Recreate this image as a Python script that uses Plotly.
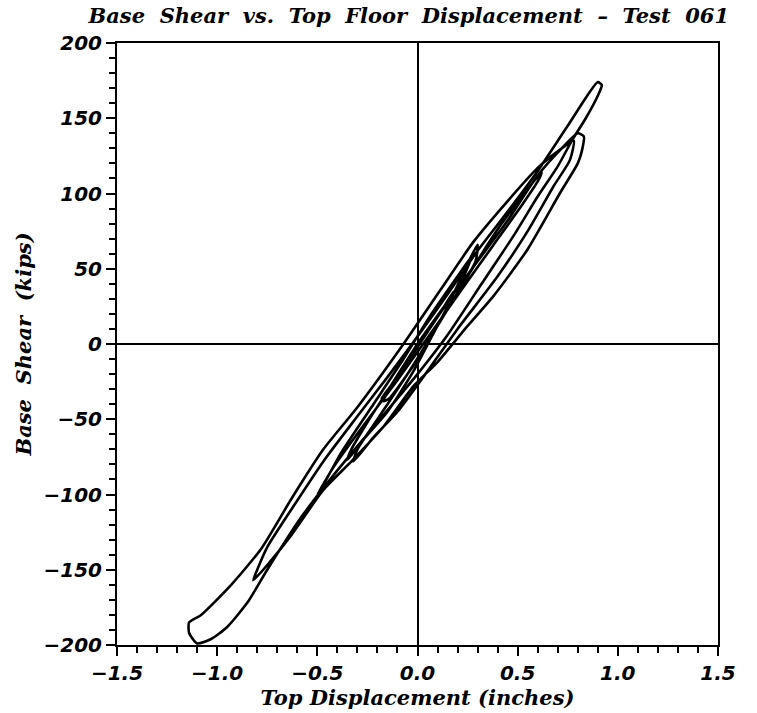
import plotly.graph_objects as go

# Hysteresis record: top floor displacement (in) and base shear (kips), in time order
disp = [
    0.00, 0.10, 0.18, 0.16, 0.05, -0.08, -0.17, -0.14, -0.05, 0.05, 0.15, 0.30,
    0.29, 0.22, 0.10, -0.02, -0.15, -0.28, -0.35,
    -0.33, -0.25, -0.12, 0.00, 0.15, 0.30, 0.45, 0.60, 0.72, 0.80, 0.83,
    0.82, 0.80, 0.71, 0.55, 0.38, 0.25, 0.10, -0.02, -0.17, -0.33, -0.47, -0.63, -0.77, -0.82,
    -0.80, -0.75, -0.62, -0.47, -0.30, -0.15, 0.00, 0.15, 0.30, 0.45, 0.60, 0.75, 0.90, 0.92,
    0.90, 0.84, 0.77, 0.70, 0.60, 0.48, 0.32, 0.15, 0.00, -0.20, -0.40, -0.58, -0.75, -0.85,
    -0.95, -1.03, -1.10, -1.14, -1.14,
    -1.08, -0.93, -0.78, -0.63, -0.47, -0.30, -0.07, 0.115, 0.28, 0.45, 0.60, 0.70, 0.78,
    0.76, 0.68, 0.55, 0.40, 0.20, 0.05, -0.10, -0.22, -0.32, -0.30,
    -0.20, -0.05, 0.10, 0.25, 0.42, 0.58, 0.62, 0.60,
    0.52, 0.38, 0.22, 0.06, -0.10, -0.28, -0.42, -0.50, -0.48,
    -0.38, -0.22, -0.08, 0.06, 0.20, 0.27, 0.22, 0.10, 0.00, -0.10, -0.18, -0.14, -0.04, 0.00,
]
shear = [
    0, 18, 35, 30, 8, -18, -38, -36, -20, 0, 25, 66,
    55, 38, 12, -18, -45, -65, -77,
    -70, -52, -25, 0, 28, 55, 82, 112, 130, 140, 138,
    128, 120, 100, 63, 32, 12, -12, -28, -55, -78, -97, -127, -150, -157,
    -150, -135, -108, -78, -48, -22, 5, 33, 62, 88, 115, 145, 174, 172,
    165, 150, 135, 118, 98, 72, 40, 6, -20, -52, -84, -115, -150, -172,
    -188, -196, -199, -192, -185,
    -180, -160, -136, -103, -70, -42, 0, 36, 68, 95, 117, 128, 135,
    122, 105, 75, 45, 10, -18, -45, -62, -78, -70,
    -50, -20, 12, 45, 80, 108, 114, 108,
    92, 66, 36, 6, -24, -56, -82, -100, -96,
    -72, -40, -12, 18, 45, 58, 42, 18, -2, -22, -36, -30, -12, 0,
]

x_ticks = [-1.5, -1.0, -0.5, 0.0, 0.5, 1.0, 1.5]
x_tick_text = ["\u22121.5", "\u22121.0", "\u22120.5", "0.0", "0.5", "1.0", "1.5"]
y_ticks = [-200, -150, -100, -50, 0, 50, 100, 150, 200]
y_tick_text = ["\u2212200", "\u2212150", "\u2212100", "\u221250", "0", "50", "100", "150", "200"]

label_font = dict(family="DejaVu Sans", size=20, color="black", style="italic", weight="bold")
title_font = dict(family="DejaVu Serif", size=21, color="black", style="italic", weight="bold")

fig = go.Figure()
fig.add_trace(go.Scatter(
    x=disp, y=shear, mode="lines",
    line=dict(color="black", width=2.6, shape="spline", smoothing=0.6),
    hoverinfo="skip", showlegend=False,
))

axis_common = dict(
    showgrid=False, showline=True, linecolor="black", linewidth=2, mirror=True,
    zeroline=True, zerolinecolor="black", zerolinewidth=1.5,
    ticks="outside", ticklen=9, tickwidth=2, tickcolor="black",
    tickfont=label_font,
)

fig.update_xaxes(
    range=[-1.5, 1.5], tickvals=x_ticks, ticktext=x_tick_text,
    minor=dict(dtick=0.1, ticks="outside", ticklen=6, tickwidth=1.5, tickcolor="black"),
    title=dict(text="Top Displacement (inches)", font=title_font, standoff=2),
    **axis_common,
)
fig.update_yaxes(
    range=[-200, 200], tickvals=y_ticks, ticktext=y_tick_text,
    minor=dict(dtick=10, ticks="outside", ticklen=6, tickwidth=1.5, tickcolor="black"),
    title=dict(text="Base\u00a0\u00a0Shear\u00a0\u00a0(kips)", font=title_font, standoff=6),
    **axis_common,
)

fig.update_layout(
    width=757, height=713,
    margin=dict(l=117, r=39, t=43, b=68),
    paper_bgcolor="white", plot_bgcolor="white",
    title=dict(text="Base\u00a0\u00a0Shear\u00a0\u00a0vs.\u00a0\u00a0Top\u00a0\u00a0Floor\u00a0\u00a0Displacement\u00a0\u00a0\u2013\u00a0\u00a0Test\u00a0\u00a0061",
               font=title_font,
               x=0.54, xanchor="center", y=0.988, yanchor="top"),
)

fig.write_html("out.html")
